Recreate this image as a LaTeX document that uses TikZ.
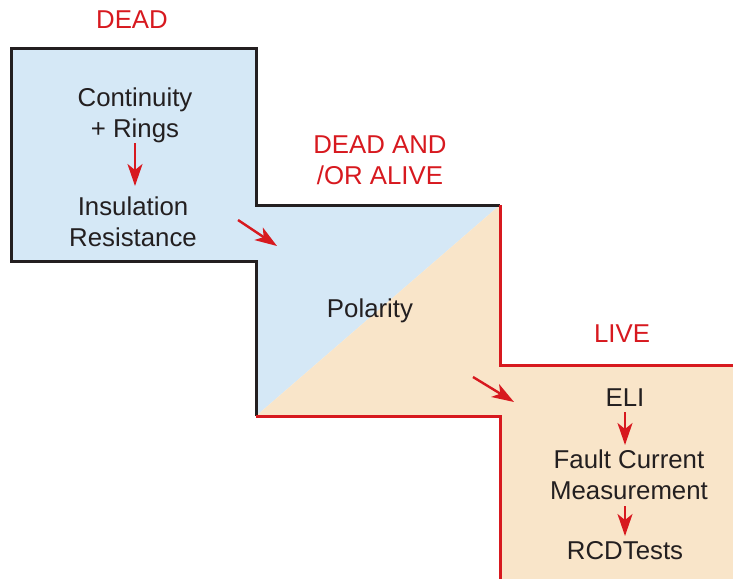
\documentclass[tikz,border=0pt]{standalone}
\usepackage{fontspec}
\setmainfont{Liberation Sans}
\usetikzlibrary{arrows.meta}
\definecolor{deadblue}{HTML}{D5E8F6}
\definecolor{liveorange}{HTML}{F9E5C9}
\definecolor{livered}{HTML}{D7191F}
\definecolor{inkdark}{HTML}{231F20}
\tikzset{
  lbl/.style={anchor=north, inner sep=0pt, align=center, text=inkdark,
    font=\fontsize{25.8}{31}\selectfont},
  head/.style={lbl, text=livered},
  arr/.style={draw=livered, line width=2.4pt,
    -{Stealth[length=22pt,width=15pt,inset=6pt]}},
  blackedge/.style={draw=inkdark, line width=3pt, line join=miter},
  rededge/.style={draw=livered, line width=3pt, line join=miter}
}
\begin{document}
\begin{tikzpicture}[x=1pt,y=-1pt]
\useasboundingbox (0,0) rectangle (733,578);
\clip (0,0) rectangle (733,578);
% fills
\fill[deadblue] (11,49) -- (256,49) -- (256,205) -- (500,205) -- (256,416)
  -- (256,261) -- (11,261) -- cycle;
\fill[liveorange] (500,205) -- (500,365) -- (760,365) -- (760,600)
  -- (500,600) -- (500,416) -- (256,416) -- cycle;
% outlines
\draw[blackedge] (256,416) -- (256,261) -- (11,261) -- (11,49) -- (256,49)
  -- (256,205) -- (500,205);
\draw[rededge] (500,205) -- (500,365) -- (760,365);
\draw[rededge] (256,416) -- (500,416) -- (500,600);
% headings
\node[head] (dead) at (132,11) {DEAD};
\node[head] (deadalive) at (380,136) {DEAD AND\\/OR ALIVE};
\node[head] (live) at (622,325) {LIVE};
% labels
\node[lbl] (cont) at (135,88) {Continuity\\+ Rings};
\node[lbl] (ins) at (133,197) {Insulation\\Resistance};
\node[lbl] (pol) at (370,299) {Polarity};
\node[lbl] (eli) at (625,389) {ELI};
\node[lbl] (fault) at (629,450) {Fault Current\\Measurement};
\node[lbl] (rcd) at (625,541) {RCDTests};
% arrows
\draw[arr, shorten >=11pt] (cont.south) -- (cont.south |- ins.north);
\draw[arr, shorten <=5pt, shorten >=5pt] (eli.south) -- (eli.south |- fault.north);
\draw[arr, shorten <=6pt, shorten >=5pt] (fault.south -| rcd.north) -- (rcd.north);
\coordinate (a1s) at (238,220);
\coordinate (a1e) at (277,246);
\coordinate (a2s) at (473,377);
\coordinate (a2e) at (514,402);
\draw[arr] (a1s) -- (a1e);
\draw[arr] (a2s) -- (a2e);
\end{tikzpicture}
\end{document}
